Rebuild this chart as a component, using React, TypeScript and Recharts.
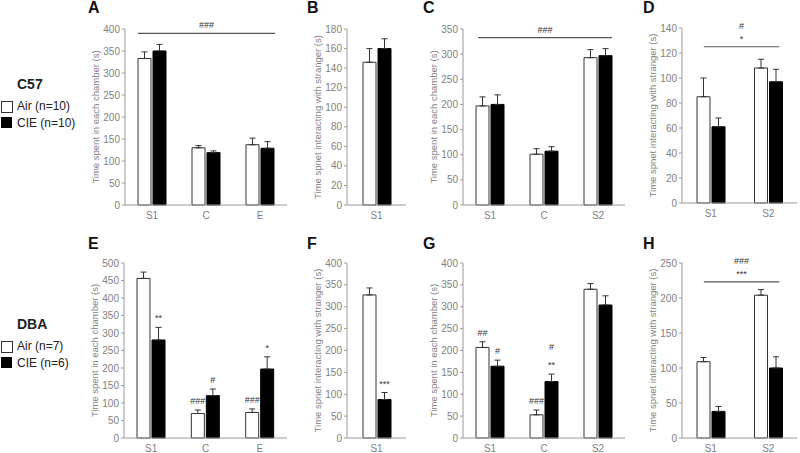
import React from 'react';
import { BarChart, Bar, XAxis, YAxis, ErrorBar, ReferenceLine, LabelList } from 'recharts';

const FONT = '"Liberation Sans", Arial, Helvetica, sans-serif';
const GRAY = '#7f7f7f';

const chamberLabel = 'Time spent in each chamber (s)';
const strangerLabel = 'Time spnet interacting with stranger (s)';

// C57 row
const catsA = ['S1', 'C', 'E'];
const airA = [333, 130, 137];
const airErrA = [15, 5, 15];
const cieA = [350, 119, 129];
const cieErrA = [15, 4, 15];

const catsB = ['S1'];
const airB = [146];
const airErrB = [14];
const cieB = [160];
const cieErrB = [10];

const catsC = ['S1', 'C', 'S2'];
const airC = [197, 101, 293];
const airErrC = [18, 11, 16];
const cieC = [200, 107, 297];
const cieErrC = [19, 9, 14];

const catsD = ['S1', 'S2'];
const airD = [85, 108];
const airErrD = [15, 7];
const cieD = [61, 97];
const cieErrD = [7, 10];

// DBA row
const catsE = ['S1', 'C', 'E'];
const airE = [456, 70, 73];
const airErrE = [18, 10, 10];
const cieE = [280, 121, 197];
const cieErrE = [36, 19, 35];
const airNotesE = ['', '###', '###'];
const cieNotesE = ['**', '#', '*'];

const catsF = ['S1'];
const airF = [327];
const airErrF = [16];
const cieF = [88];
const cieErrF = [16];
const cieNotesF = ['***'];

const catsG = ['S1', 'C', 'S2'];
const airG = [207, 53, 340];
const airErrG = [13, 11, 13];
const cieG = [164, 129, 304];
const cieErrG = [14, 17, 21];
const airNotesG = ['##', '###', ''];
const cieNotesG = ['#', '#\n**', ''];

const catsH = ['S1', 'S2'];
const airH = [109, 204];
const airErrH = [6, 8];
const cieH = [38, 100];
const cieErrH = [7, 16];

function ticksFor(max: number, step: number) {
  const t: number[] = [];
  for (let v = 0; v <= max; v += step) t.push(v);
  return t;
}

function noteContent(vals: number[], errs: number[]) {
  return (props: any) => {
    const vb = props.viewBox || props;
    const { x, y, width, height } = vb;
    const i = props.index;
    const text = props.value;
    if (!text) return null;
    const v = vals[i];
    const topY = v > 0 ? y - (errs[i] * height) / v : y;
    const lines = String(text).split('\n');
    return (
      <g>
        {lines.map((t, k) => (
          <text key={k} x={x + width / 2} y={topY - 6 - (lines.length - 1 - k) * 18} textAnchor="middle" fontSize={9} fill="#333" fontFamily={FONT}>
            {t}
          </text>
        ))}
      </g>
    );
  };
}

function sigContent(marks: string[]) {
  return (props: any) => {
    const { x, y, width } = props.viewBox;
    return (
      <g>
        {marks.map((t, k) => (
          <text key={k} x={x + width / 2} y={y - 5 - (marks.length - 1 - k) * 13} textAnchor="middle" fontSize={9} fill="#333" fontFamily={FONT}>
            {t}
          </text>
        ))}
      </g>
    );
  };
}

type PanelProps = {
  x0: number; x1: number; yTop: number; yBot: number;
  cats: string[]; air: number[]; airErr: number[]; cie: number[]; cieErr: number[];
  max: number; step: number; yLabel: string;
  airNotes?: string[]; cieNotes?: string[];
  sig?: { from: number; to: number; y: number; marks: string[] };
};

function Panel(p: PanelProps) {
  const yw = 45;
  const mt = 12;
  const xh = 20;
  const mb = 6;
  const data = p.cats.map((c, i) => ({
    cat: c,
    pos: i + 0.5,
    air: p.air[i],
    cie: p.cie[i],
    airErr: [0, p.airErr[i]],
    cieErr: [0, p.cieErr[i]],
    airNote: p.airNotes ? p.airNotes[i] : '',
    cieNote: p.cieNotes ? p.cieNotes[i] : '',
  }));
  const width = p.x1 - p.x0 + yw + 5;
  const height = p.yBot - p.yTop + mt + xh + mb;
  return (
    <div style={{ position: 'absolute', left: p.x0 - yw, top: p.yTop - mt }}>
      <BarChart width={width} height={height} data={data} margin={{ top: mt, right: 5, left: 0, bottom: mb }} barSize={13} barGap={2}>
        <XAxis dataKey="cat" height={xh} tickLine={false} axisLine={{ stroke: '#9a9a9a' }} tick={{ fill: GRAY, fontSize: 10, fontFamily: FONT }} tickSize={5} />
        {/* hidden linear axis, 1 unit per category, used to place the bracket lines */}
        <XAxis xAxisId="n" dataKey="pos" type="number" scale="linear" domain={[0, p.cats.length]} allowDataOverflow hide />
        <YAxis
          width={yw}
          domain={[0, p.max]}
          ticks={ticksFor(p.max, p.step)}
          interval={0}
          tickSize={3}
          tickLine={{ stroke: '#9a9a9a' }}
          axisLine={{ stroke: '#9a9a9a' }}
          tick={{ fill: GRAY, fontSize: 10, fontFamily: FONT }}
          label={{ value: p.yLabel, angle: -90, position: 'insideLeft', offset: 16, style: { textAnchor: 'middle', fill: GRAY, fontSize: 9.5, fontFamily: FONT } }}
        />
        <Bar dataKey="air" fill="#fff" stroke="#333" strokeWidth={1} isAnimationActive={false}>
          <ErrorBar dataKey="airErr" width={3} stroke="#333" strokeWidth={1} direction="y" />
          {p.airNotes && <LabelList dataKey="airNote" content={noteContent(p.air, p.airErr)} />}
        </Bar>
        <Bar dataKey="cie" fill="#000" stroke="#000" strokeWidth={1} isAnimationActive={false}>
          <ErrorBar dataKey="cieErr" width={3} stroke="#333" strokeWidth={1} direction="y" />
          {p.cieNotes && <LabelList dataKey="cieNote" content={noteContent(p.cie, p.cieErr)} />}
        </Bar>
        {p.sig && (
          <ReferenceLine
            xAxisId="n"
            ifOverflow="visible"
            segment={[{ x: p.sig.from, y: p.sig.y }, { x: p.sig.to, y: p.sig.y }]}
            stroke="#555"
            strokeWidth={1.2}
            label={sigContent(p.sig.marks)}
          />
        )}
      </BarChart>
    </div>
  );
}

const letterStyle: React.CSSProperties = { position: 'absolute', fontFamily: FONT, fontWeight: 'bold', fontSize: 16, lineHeight: '16px', color: '#111' };
const legendText: React.CSSProperties = { position: 'absolute', fontFamily: FONT, fontSize: 12, lineHeight: '12px', color: '#222', whiteSpace: 'nowrap' };

function Legend({ top, strain, airN, cieN }: { top: number; strain: string; airN: string; cieN: string }) {
  return (
    <>
      <div style={{ ...legendText, left: 17, top: top - 8, fontSize: 14, lineHeight: '14px', fontWeight: 'bold' }}>{strain}</div>
      <div style={{ position: 'absolute', left: 1, top: top + 16, width: 10, height: 10, border: '1px solid #333', background: '#fff' }} />
      <div style={{ ...legendText, left: 17, top: top + 15 }}>{airN}</div>
      <div style={{ position: 'absolute', left: 1, top: top + 32, width: 11, height: 11, background: '#000' }} />
      <div style={{ ...legendText, left: 17, top: top + 32 }}>{cieN}</div>
    </>
  );
}

export default function App() {
  return (
    <div style={{ position: 'absolute', left: 0, top: 0, width: 800, height: 453, background: '#fff', overflow: 'hidden' }}>
      <Legend top={85} strain="C57" airN="Air (n=10)" cieN="CIE (n=10)" />
      <Legend top={325} strain="DBA" airN="Air (n=7)" cieN="CIE (n=6)" />

      <div style={{ ...letterStyle, left: 88, top: 0 }}>A</div>
      <div style={{ ...letterStyle, left: 307, top: 0 }}>B</div>
      <div style={{ ...letterStyle, left: 423, top: 0 }}>C</div>
      <div style={{ ...letterStyle, left: 643, top: 0 }}>D</div>
      <div style={{ ...letterStyle, left: 88, top: 236 }}>E</div>
      <div style={{ ...letterStyle, left: 307, top: 236 }}>F</div>
      <div style={{ ...letterStyle, left: 423, top: 236 }}>G</div>
      <div style={{ ...letterStyle, left: 643, top: 236 }}>H</div>

      <Panel x0={125} x1={287} yTop={29} yBot={205} cats={catsA} air={airA} airErr={airErrA} cie={cieA} cieErr={cieErrA} max={400} step={50} yLabel={chamberLabel}
        sig={{ from: 0.24, to: 2.78, y: 390, marks: ['###'] }} />
      <Panel x0={347} x1={406} yTop={29} yBot={205} cats={catsB} air={airB} airErr={airErrB} cie={cieB} cieErr={cieErrB} max={180} step={20} yLabel={strangerLabel} />
      <Panel x0={463} x1={625} yTop={29} yBot={205} cats={catsC} air={airC} airErr={airErrC} cie={cieC} cieErr={cieErrC} max={350} step={50} yLabel={chamberLabel}
        sig={{ from: 0.28, to: 2.76, y: 333, marks: ['###'] }} />
      <Panel x0={682} x1={797} yTop={28} yBot={203} cats={catsD} air={airD} airErr={airErrD} cie={cieD} cieErr={cieErrD} max={140} step={20} yLabel={strangerLabel}
        sig={{ from: 0.38, to: 1.69, y: 125, marks: ['#', '*'] }} />

      <Panel x0={124} x1={287} yTop={263} yBot={438} cats={catsE} air={airE} airErr={airErrE} cie={cieE} cieErr={cieErrE} max={500} step={50} yLabel={chamberLabel}
        airNotes={airNotesE} cieNotes={cieNotesE} />
      <Panel x0={347} x1={406} yTop={263} yBot={438} cats={catsF} air={airF} airErr={airErrF} cie={cieF} cieErr={cieErrF} max={400} step={50} yLabel={strangerLabel}
        cieNotes={cieNotesF} />
      <Panel x0={463} x1={625} yTop={263} yBot={438} cats={catsG} air={airG} airErr={airErrG} cie={cieG} cieErr={cieErrG} max={400} step={50} yLabel={chamberLabel}
        airNotes={airNotesG} cieNotes={cieNotesG} />
      <Panel x0={682} x1={797} yTop={263} yBot={438} cats={catsH} air={airH} airErr={airErrH} cie={cieH} cieErr={cieErrH} max={250} step={50} yLabel={strangerLabel}
        sig={{ from: 0.38, to: 1.69, y: 223, marks: ['###', '***'] }} />
    </div>
  );
}
